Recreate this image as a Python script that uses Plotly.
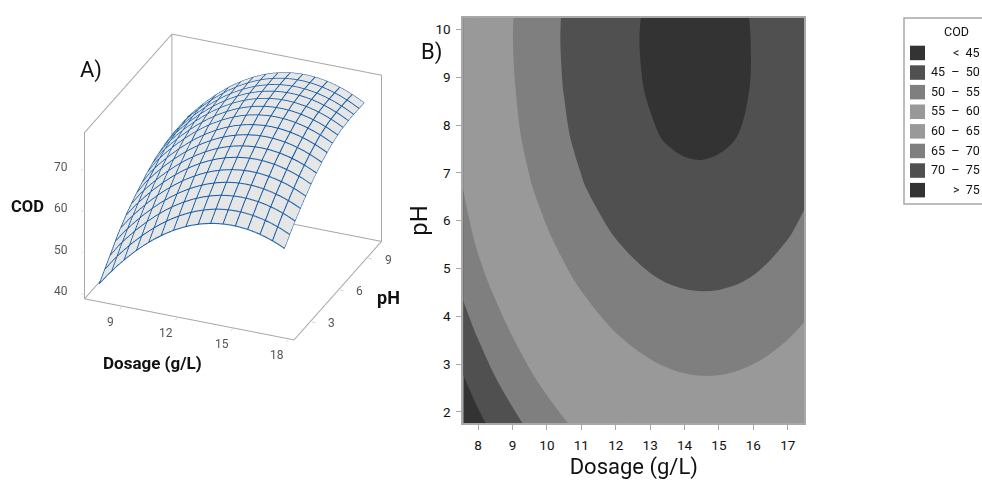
import plotly.graph_objects as go

W, H = 982, 480

dosage = [7.5, 8, 8.5, 9, 9.5, 10, 10.5, 11, 11.5, 12, 12.5, 13, 13.5, 14, 14.5, 15, 15.5, 16, 16.5, 17, 17.5]
ph = [1.75, 2.75, 3.75, 4.75, 5.75, 6.75, 7.75, 8.75, 9.75, 10.25]
cod = [
    [41.07, 43.82, 46.37, 48.72, 50.87, 52.82, 54.58, 56.14, 57.51, 58.67, 59.64, 60.41, 60.98, 61.35, 61.53, 61.51, 61.30, 60.88, 60.27, 59.46, 58.45],
    [44.50, 47.53, 50.06, 52.39, 54.52, 56.46, 58.20, 59.74, 61.08, 62.22, 63.17, 63.92, 64.48, 64.83, 64.99, 64.95, 64.71, 64.28, 63.65, 62.82, 61.79],
    [48.00, 50.74, 53.25, 55.56, 57.68, 59.59, 61.31, 62.83, 64.15, 65.28, 66.21, 66.94, 67.47, 67.81, 67.95, 67.89, 67.63, 67.17, 66.52, 65.67, 64.63],
    [50.80, 53.65, 56.14, 58.43, 60.53, 62.42, 64.12, 65.62, 66.93, 68.04, 68.94, 69.65, 70.16, 70.48, 70.60, 70.52, 70.24, 69.77, 69.10, 68.23, 67.16],
    [52.90, 56.06, 58.53, 60.80, 62.87, 64.75, 66.43, 67.91, 69.19, 70.28, 71.17, 71.86, 72.35, 72.65, 72.75, 72.65, 72.35, 71.86, 71.17, 70.28, 69.19],
    [54.75, 58.02, 60.47, 62.72, 64.77, 66.63, 68.29, 69.75, 71.01, 72.08, 72.95, 73.62, 74.09, 74.37, 74.45, 74.33, 74.01, 73.50, 72.79, 71.88, 70.78],
    [56.20, 59.32, 61.75, 63.98, 66.02, 67.85, 69.49, 70.93, 72.18, 73.22, 74.07, 74.72, 75.18, 75.44, 75.50, 75.36, 75.02, 74.49, 73.76, 72.83, 71.70],
    [57.00, 60.02, 62.43, 64.64, 66.66, 68.48, 70.10, 71.52, 72.74, 73.77, 74.60, 75.23, 75.66, 75.90, 75.94, 75.78, 75.43, 74.87, 74.12, 73.18, 72.03],
    [57.40, 60.37, 62.76, 64.95, 66.95, 68.75, 70.35, 71.75, 72.95, 73.96, 74.77, 75.38, 75.80, 76.01, 76.03, 75.85, 75.48, 74.91, 74.14, 73.17, 72.01],
    [57.35, 60.32, 62.71, 64.90, 66.90, 68.70, 70.30, 71.70, 72.90, 73.91, 74.72, 75.33, 75.75, 75.96, 75.98, 75.80, 75.43, 74.86, 74.09, 73.12, 71.96],
]
legend_labels = ["<  45", "45  –  50", "50  –  55", "55  –  60", "60  –  65", "65  –  70", "70  –  75", ">  75"]
legend_colors = ["#333333", "#505050", "#7f7f7f", "#999999", "#999999", "#7f7f7f", "#505050", "#333333"]
dosage_ticks_3d = [9, 12, 15, 18]
ph_ticks_3d = [3, 6, 9]
cod_ticks_3d = [40, 50, 60, 70]

X_BOX = [7.0, 18.3]
Y_BOX = [1.2, 10.5]
Z_BOX = [38.5, 78.7]
X_RANGE = [6.95, 18.35]
Y_RANGE = [1.16, 10.54]
Z_RANGE = [38.3, 78.9]

FONT = "Roboto"
GRID = "#0f58a4"
FRAME = "#a8a8a8"
TICK3D = "#555555"

fig = go.Figure()

# ---- B: filled contour
n = len(legend_colors)
scale = []
for i, c in enumerate(legend_colors):
    scale += [[i / n, c], [(i + 1) / n, c]]
fig.add_trace(go.Contour(
    x=dosage, y=ph, z=cod, xaxis="x", yaxis="y",
    zmin=40, zmax=80, colorscale=scale, showscale=False,
    contours=dict(start=45, end=75, size=5, coloring="fill"),
    line=dict(width=0, smoothing=1.0),
))

# ---- A: response surface (a base surface, then a near-coincident mesh to thicken its lines)
for k, (dx, dy) in enumerate([(0, 0), (0.025, 0.025)]):
    fig.add_trace(go.Surface(
        x=dosage, y=ph, z=cod, scene="scene", showscale=False, hidesurface=k > 0,
        colorscale=[[0, "#e6e6e6"], [1, "#e6e6e6"]],
        lighting=dict(ambient=1, diffuse=0, specular=0, fresnel=0, roughness=1),
        contours=dict(
            x=dict(show=True, start=7.5 + dx, end=17.5 + dx, size=10 / 15, color=GRID, width=5),
            y=dict(show=True, start=1.75 + dy, end=10.25 + dy, size=8.5 / 15, color=GRID, width=5),
            z=dict(show=False),
        ),
        hoverinfo="skip",
    ))
# box frame: floor, three rear verticals, rear top edges
x0, x1 = X_BOX; y0, y1 = Y_BOX; z0, z1 = Z_BOX
fig.add_trace(go.Scatter3d(
    scene="scene", mode="lines", line=dict(color=FRAME, width=2), hoverinfo="skip", showlegend=False,
    x=[x0, x1, x1, x0, x0, x0, x0, x0, x0, x1, x1],
    y=[y0, y0, y1, y1, y0, y0, y1, y1, y1, y1, y1],
    z=[z0, z0, z0, z0, z0, z1, z1, z0, z1, z1, z0],
))

def tick3d(text, x, y, z, dx, dy):
    return dict(x=x, y=y, z=z, text=str(text), showarrow=False, xshift=dx, yshift=dy,
                xanchor="center", yanchor="middle",
                font=dict(family=FONT, size=12, color=TICK3D))

scene_notes = (
    [tick3d(v, v, y0, z0, -11, -16) for v in dosage_ticks_3d]
    + [tick3d(v, x1, v, z0, 21, -2) for v in ph_ticks_3d]
    + [tick3d(v, x0, y0, v, -23, 2) for v in cod_ticks_3d]
)

axis3d = dict(showbackground=False, showgrid=False, zeroline=False, showline=False, showticklabels=False,
              ticks="outside", ticklen=4, tickcolor=FRAME, title=dict(text=""), showspikes=False)
fig.update_layout(
    width=W, height=H, margin=dict(l=0, r=0, t=0, b=0),
    paper_bgcolor="white", plot_bgcolor="white", showlegend=False,
    scene=dict(
        domain=dict(x=[0.022, 0.452], y=[0.22, 1.0]),
        xaxis=dict(axis3d, range=X_RANGE, tickvals=dosage_ticks_3d),
        yaxis=dict(axis3d, range=Y_RANGE, tickvals=ph_ticks_3d),
        zaxis=dict(axis3d, range=Z_RANGE, tickvals=cod_ticks_3d),
        aspectmode="manual", aspectratio=dict(x=1.225, y=1.225, z=1.017),
        camera=dict(eye=dict(x=0.68, y=-1.63, z=0.94), center=dict(x=0, y=0, z=0),
                    projection=dict(type="orthographic")),
        annotations=scene_notes,
    ),
    xaxis=dict(domain=[463.3 / W, 804.3 / W], range=[7.57, 17.48], tickvals=list(range(8, 18)),
               ticks="outside", ticklen=5, tickcolor=FRAME, linecolor=FRAME, linewidth=2, mirror=True,
               showgrid=False, zeroline=False, ticklabelstandoff=3,
               tickfont=dict(family=FONT, size=13.5, color="#111111"),
               title=dict(text="Dosage (g/L)", font=dict(family=FONT, size=22, color="#111111"), standoff=8)),
    yaxis=dict(domain=[1 - 423.3 / H, 1 - 17.7 / H], range=[1.76, 10.25], tickvals=list(range(2, 11)),
               ticks="outside", ticklen=5, tickcolor=FRAME, linecolor=FRAME, linewidth=2, mirror=True,
               showgrid=False, zeroline=False, ticklabelstandoff=3,
               tickfont=dict(family=FONT, size=13.5, color="#111111"),
               title=dict(text="pH", font=dict(family=FONT, size=24, color="#111111"), standoff=1)),
)

def note(text, px, py, size, bold=False, color="#111111", anchor="center", family=FONT):
    fig.add_annotation(xref="paper", yref="paper", x=px / W, y=1 - py / H, text=f"<b>{text}</b>" if bold else text,
                       showarrow=False, xanchor=anchor, yanchor="middle",
                       font=dict(family=family, size=size, color=color))

note("A)", 91, 70, 22)
note("B)", 431, 52, 22)
note("COD", 27, 206, 16.5, bold=True)
note("pH", 388, 297, 18, bold=True)
note("Dosage (g/L)", 152, 363, 17, bold=True)

# ---- legend
fig.add_shape(type="rect", xref="paper", yref="paper", x0=904 / W, x1=1.02, y0=1 - 204 / H, y1=1 - 18 / H,
              line=dict(color=FRAME, width=1.5), fillcolor="white")
note("COD", 956, 32, 12.5)
for i, (label, colour) in enumerate(zip(legend_labels, legend_colors)):
    top = 45.7 + i * 19.6
    fig.add_shape(type="rect", xref="paper", yref="paper", x0=910 / W, x1=925 / W,
                  y0=1 - (top + 14.5) / H, y1=1 - top / H, line=dict(width=0), fillcolor=colour)
    note(label.replace("  ", "&nbsp;&nbsp;"), 982, top + 6.5, 12.5, anchor="right")

fig.write_html("out.html", post_script="document.body.style.margin='0';", config=dict(displayModeBar=False))
